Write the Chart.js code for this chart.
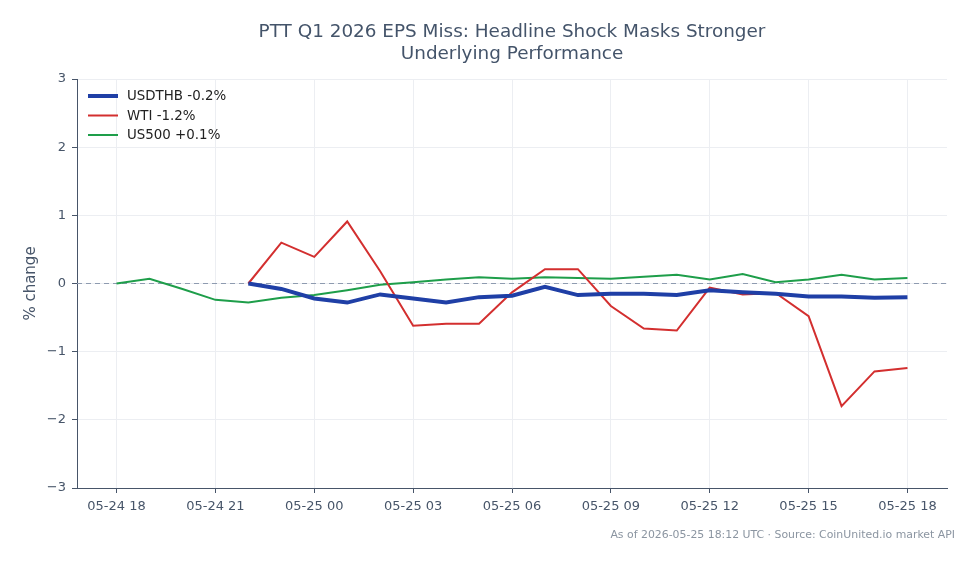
<!DOCTYPE html>
<html>
<head>
<meta charset="utf-8">
<script src="https://cdn.jsdelivr.net/npm/chart.js@4.4.1/dist/chart.umd.min.js"></script>
<style>
  html, body { margin: 0; padding: 0; background: #fff; }
  #wrap { width: 979px; height: 564px; }
</style>
</head>
<body>
<div id="wrap"><canvas id="epsChart" width="979" height="564"></canvas></div>
<script>
// 時間軸: 0 = 05-24 18:00 UTC, 1時間刻み
const hours = [0, 1, 2, 3, 4, 5, 6, 7, 8, 9, 10, 11, 12, 13, 14, 15, 16, 17, 18, 19, 20, 21, 22, 23, 24];
const tickHours = [0, 3, 6, 9, 12, 15, 18, 21, 24];
const tickLabels = ['05-24 18', '05-24 21', '05-25 00', '05-25 03', '05-25 06', '05-25 09', '05-25 12', '05-25 15', '05-25 18'];

// 変化率 (%)
const usdthb = [null, null, null, null, 0, -0.08, -0.22, -0.28, -0.16, -0.22, -0.28, -0.20, -0.18, -0.05, -0.17, -0.15, -0.15, -0.17, -0.10, -0.13, -0.15, -0.19, -0.19, -0.21, -0.20];
const wti = [null, null, null, null, 0, 0.60, 0.39, 0.91, 0.18, -0.62, -0.59, -0.59, -0.13, 0.21, 0.21, -0.33, -0.66, -0.69, -0.06, -0.16, -0.14, -0.48, -1.80, -1.29, -1.24];
const us500 = [0, 0.07, -0.08, -0.24, -0.28, -0.21, -0.17, -0.10, -0.02, 0.02, 0.06, 0.09, 0.07, 0.09, 0.08, 0.07, 0.10, 0.13, 0.06, 0.14, 0.02, 0.06, 0.13, 0.06, 0.08];

const seriesNames = ['USDTHB -0.2%', 'WTI -1.2%', 'US500 +0.1%'];
const seriesColors = ['#1f3fa6', '#d32f2f', '#1e9e4a'];
const seriesWidths = [4, 2, 2];

const titleLines = ['PTT Q1 2026 EPS Miss: Headline Shock Masks Stronger', 'Underlying Performance'];
const footerText = 'As of 2026-05-25 18:12 UTC \u00b7 Source: CoinUnited.io market API';

const FONT = '"DejaVu Sans", sans-serif';
const TEXT = '#475569';

const toPoints = vals => hours.map((h, i) => ({ x: h, y: vals[i] }));

// タイトル・凡例・ゼロ線・注記を描くプラグイン
const decor = {
    id: 'decor',
    beforeDatasetsDraw(chart) {
        const { ctx, chartArea, scales } = chart;
        const y0 = scales.y.getPixelForValue(0);
        ctx.save();
        ctx.strokeStyle = '#8e9bb0';
        ctx.lineWidth = 1;
        ctx.setLineDash([5, 4]);
        ctx.beginPath();
        ctx.moveTo(chartArea.left, y0);
        ctx.lineTo(chartArea.right, y0);
        ctx.stroke();
        ctx.restore();
    },
    afterDraw(chart) {
        const { ctx, chartArea } = chart;
        ctx.save();
        // タイトル
        const cx = (chartArea.left + chartArea.right) / 2;
        ctx.fillStyle = '#44546a';
        ctx.font = '18.4px ' + FONT;
        ctx.textAlign = 'center';
        ctx.textBaseline = 'middle';
        titleLines.forEach((t, i) => ctx.fillText(t, cx, 32 + i * 22));

        // Y軸タイトル
        ctx.save();
        ctx.translate(31, (chartArea.top + chartArea.bottom) / 2);
        ctx.rotate(-Math.PI / 2);
        ctx.font = '15px ' + FONT;
        ctx.fillStyle = TEXT;
        ctx.fillText('% change', 0, 0);
        ctx.restore();

        // 凡例
        ctx.textAlign = 'left';
        ctx.font = '13.4px ' + FONT;
        seriesNames.forEach((name, i) => {
            const y = 96 + i * 19.5;
            ctx.strokeStyle = seriesColors[i];
            ctx.lineWidth = seriesWidths[i];
            ctx.beginPath();
            ctx.moveTo(88, y);
            ctx.lineTo(118, y);
            ctx.stroke();
            ctx.fillStyle = '#222';
            ctx.fillText(name, 127, y + 1);
        });

        // 注記
        ctx.textAlign = 'right';
        ctx.font = '10.9px ' + FONT;
        ctx.fillStyle = '#8b95a1';
        ctx.fillText(footerText, 955, 535);
        ctx.restore();
    }
};

const ctx = document.getElementById('epsChart').getContext('2d');
new Chart(ctx, {
    type: 'line',
    data: {
        datasets: [usdthb, wti, us500].map((vals, i) => ({
            label: seriesNames[i],
            data: toPoints(vals),
            borderColor: seriesColors[i],
            backgroundColor: seriesColors[i],
            borderWidth: seriesWidths[i],
            pointRadius: 0,
            tension: 0,
            spanGaps: false,
            order: i === 0 ? 0 : 1
        }))
    },
    options: {
        responsive: false,
        animation: false,
        layout: { padding: { left: 0, right: 32, top: 79, bottom: 0 } },
        plugins: {
            legend: { display: false },
            title: { display: false },
            tooltip: { enabled: false }
        },
        scales: {
            x: {
                type: 'linear',
                min: -1.2,
                max: 25.2,
                afterBuildTicks: s => { s.ticks = tickHours.map(v => ({ value: v })); },
                afterFit: s => { s.height = 76; },
                ticks: {
                    autoSkip: false,
                    maxRotation: 0,
                    padding: 6,
                    color: TEXT,
                    font: { family: FONT, size: 13 },
                    callback: v => tickLabels[tickHours.indexOf(v)]
                },
                grid: { color: '#eceef2', tickColor: TEXT, tickLength: 5 },
                border: { color: TEXT, width: 1 }
            },
            y: {
                min: -3,
                max: 3,
                afterFit: s => { s.width = 77; },
                ticks: {
                    stepSize: 1,
                    padding: 6,
                    color: TEXT,
                    font: { family: FONT, size: 13 },
                    callback: v => (v < 0 ? '\u2212' + Math.abs(v) : String(v))
                },
                grid: { color: '#eceef2', tickColor: TEXT, tickLength: 5 },
                border: { color: TEXT, width: 1 }
            }
        }
    },
    plugins: [decor]
});
</script>
</body>
</html>
